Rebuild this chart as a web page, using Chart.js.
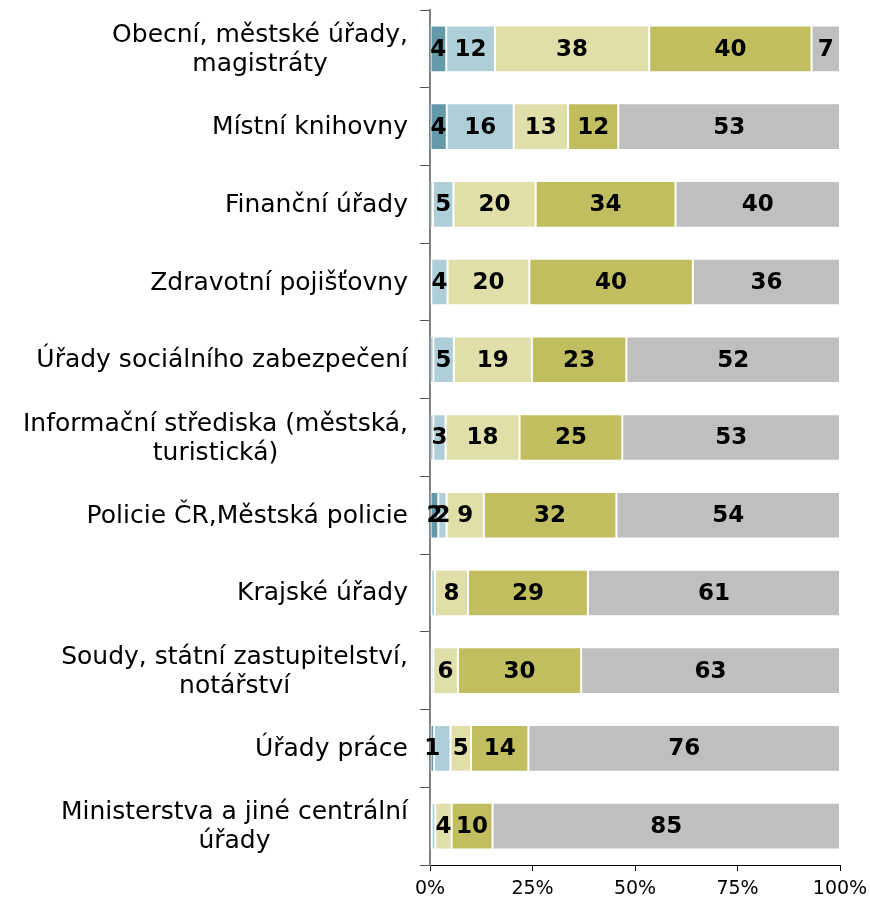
<!DOCTYPE html>
<html>
<head>
<meta charset="utf-8">
<script src="https://cdn.jsdelivr.net/npm/chart.js@4"></script>
<style>
  html, body { margin: 0; padding: 0; background: #fff; }
  #wrap { width: 870px; height: 903px; }
</style>
</head>
<body>
<div id="wrap"><canvas id="chart"></canvas></div>
<script>
const categories = [
    'Obecní, městské úřady,\nmagistráty',
    'Místní knihovny',
    'Finanční úřady',
    'Zdravotní pojišťovny',
    'Úřady sociálního zabezpečení',
    'Informační střediska (městská,\nturistická)',
    'Policie ČR,Městská policie',
    'Krajské úřady',
    'Soudy, státní zastupitelství,\nnotářství',
    'Úřady práce',
    'Ministerstva a jiné centrální\núřady'
];

// shares in % (values under 1 have no label)
const series1 = [4, 4, 0.7, 0.3, 0.8, 0.8, 2, 0.3, 0.2, 1, 0.4];
const series2 = [12, 16, 5, 4, 5, 3, 2, 0.9, 0.6, 4, 0.9];
const series3 = [38, 13, 20, 20, 19, 18, 9, 8, 6, 5, 4];
const series4 = [40, 12, 34, 40, 23, 25, 32, 29, 30, 14, 10];
const series5 = [7, 53, 40, 36, 52, 53, 54, 61, 63, 76, 85];

const seriesNames = ['Řada 1', 'Řada 2', 'Řada 3', 'Řada 4', 'Řada 5'];
const seriesColors = ['#6399A9', '#AECFD8', '#E0DFAA', '#C0BE5F', '#BFBFBF'];
const xTicks = [0, 25, 50, 75, 100];

// labels that are missing in the original
const hiddenLabels = [[1, 9]];

const allSeries = [series1, series2, series3, series4, series5];
const rowSums = categories.map((c, i) => allSeries.reduce((s, arr) => s + arr[i], 0));

const labelPlugin = {
    id: 'segmentLabels',
    afterDatasetsDraw(chart) {
        const ctx = chart.ctx;
        ctx.save();
        ctx.font = 'bold 23px "DejaVu Sans"';
        ctx.fillStyle = '#000';
        ctx.textAlign = 'center';
        ctx.textBaseline = 'middle';
        allSeries.forEach((arr, di) => {
            const meta = chart.getDatasetMeta(di);
            meta.data.forEach((bar, i) => {
                const v = arr[i];
                if (v < 1) return;
                if (hiddenLabels.some(h => h[0] === di && h[1] === i)) return;
                const p = bar.getProps(['x', 'base', 'y'], true);
                ctx.fillText(String(v), (p.x + p.base) / 2, p.y + 1);
            });
        });
        ctx.restore();
    },
    afterDraw(chart) {
        // category labels: block right-aligned, lines centred inside it
        const ctx = chart.ctx;
        const yScale = chart.scales.y;
        ctx.save();
        ctx.font = '25px "DejaVu Sans"';
        ctx.fillStyle = '#000';
        ctx.textAlign = 'center';
        ctx.textBaseline = 'middle';
        const right = 408;
        const lineH = 29;
        categories.forEach((cat, i) => {
            const lines = cat.split('\n');
            const maxW = Math.max(...lines.map(l => ctx.measureText(l).width));
            const cx = right - maxW / 2;
            const y = yScale.getPixelForValue(i);
            const startY = y - (lines.length - 1) * lineH / 2;
            lines.forEach((l, k) => ctx.fillText(l, cx, startY + k * lineH + 1));
        });
        ctx.restore();
    }
};

const ctx = document.getElementById('chart').getContext('2d');
new Chart(ctx, {
    type: 'bar',
    data: {
        labels: categories,
        datasets: allSeries.map((arr, di) => ({
            label: seriesNames[di],
            data: arr.map((v, i) => v / rowSums[i] * 100),
            backgroundColor: seriesColors[di],
            borderColor: '#fff',
            borderWidth: 1,
            borderSkipped: false,
            barPercentage: 0.6,
            categoryPercentage: 1
        }))
    },
    options: {
        indexAxis: 'y',
        responsive: true,
        maintainAspectRatio: false,
        animation: false,
        layout: { padding: { left: 0, top: 10, right: 30, bottom: 0 } },
        plugins: {
            legend: { display: false },
            tooltip: { enabled: false }
        },
        scales: {
            x: {
                stacked: true,
                min: 0,
                max: 100,
                afterBuildTicks: scale => { scale.ticks = xTicks.map(v => ({ value: v })); },
                afterFit: scale => {
                    scale.height = 38;
                    scale.paddingLeft = 0;
                    scale.paddingRight = 0;
                },
                ticks: {
                    callback: v => v + '%',
                    color: '#000',
                    font: { family: 'DejaVu Sans', size: 19 },
                    padding: 7,
                    maxRotation: 0
                },
                grid: { drawOnChartArea: false, drawTicks: true, tickLength: 6, color: '#000' },
                border: { color: '#000', width: 1 }
            },
            y: {
                stacked: true,
                afterFit: scale => { scale.width = 430; },
                ticks: { display: false },
                grid: { offset: true, drawOnChartArea: false, drawTicks: true, tickLength: 10, color: '#555' },
                border: { color: '#808080', width: 2 }
            }
        }
    },
    plugins: [labelPlugin]
});
</script>
</body>
</html>
